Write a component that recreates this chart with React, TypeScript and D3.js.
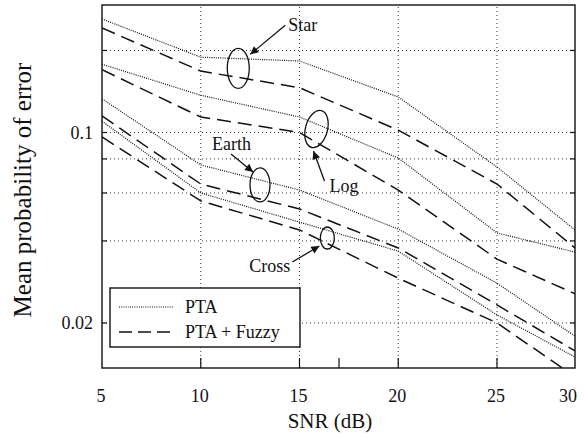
import React, { useEffect, useRef } from "react";
import * as d3 from "d3";

// SNR in dB
const snr = [5, 10, 15, 20, 25, 30];

// mean probability of error
const starPTA = [0.261, 0.189, 0.183, 0.135, 0.0747, 0.0439];
const starFuzzy = [0.242, 0.168, 0.146, 0.102, 0.0647, 0.0377];
const logPTA = [0.178, 0.137, 0.114, 0.0806, 0.0428, 0.0364];
const logFuzzy = [0.17, 0.114, 0.1, 0.0615, 0.0343, 0.0256];
const earthPTA = [0.133, 0.076, 0.0615, 0.0442, 0.028, 0.0179];
const earthFuzzy = [0.115, 0.0647, 0.0524, 0.0377, 0.0233, 0.0158];
const crossPTA = [0.11, 0.06, 0.0469, 0.0367, 0.0214, 0.015];
const crossFuzzy = [0.0963, 0.0561, 0.0439, 0.0292, 0.02, 0.0127];

const xTickLabels = ["5", "10", "15", "20", "25", "30"];
const xGrid = [10, 15, 20, 25];
const xTickMarks = [10, 15, 17, 20, 25];
const yGrid = [0.2, 0.1, 0.08, 0.06, 0.04, 0.02];
const yTickLabels = [0.1, 0.02];

const groups = [
  { name: "Star", pta: starPTA, fuzzy: starFuzzy },
  { name: "Log", pta: logPTA, fuzzy: logFuzzy },
  { name: "Earth", pta: earthPTA, fuzzy: earthFuzzy },
  { name: "Cross", pta: crossPTA, fuzzy: crossFuzzy },
];

// ellipse centre in data units, then label / arrow offsets in px
const notes = [
  { name: "Star", snr: 11.9, p: 0.172, rx: 11, ry: 20, tilt: 0, text: [50, -37], tail: [47, -43], head: [12, -14] },
  { name: "Log", snr: 15.86, p: 0.103, rx: 11, ry: 19, tilt: 15, text: [13, 63], tail: [8, 52], head: [-3, 22] },
  { name: "Earth", snr: 13.0, p: 0.0642, rx: 10, ry: 17, tilt: 0, text: [-48, -35], tail: [-29, -31], head: [-7, -13] },
  { name: "Cross", snr: 16.41, p: 0.041, rx: 7, ry: 11, tilt: 0, text: [-78, 34], tail: [-35, 24], head: [-8, 8] },
];

const legendItems = [
  { label: "PTA", dash: "1,1.2", width: 1.2 },
  { label: "PTA + Fuzzy", dash: "13,6", width: 1.5 },
];

const W = 586;
const H = 441;
const margin = { top: 5, right: 11, bottom: 73, left: 102 };
const font = "'Liberation Serif', 'Times New Roman', Times, serif";
const ink = "#111";

function Chart() {
  const ref = useRef<SVGSVGElement>(null);

  useEffect(() => {
    const svg = d3.select(ref.current);
    svg.selectAll("*").remove();

    const x0 = margin.left;
    const x1 = W - margin.right;
    const y0 = H - margin.bottom;
    const y1 = margin.top;

    // the original axis squeezes 25..30 into the last stretch
    const x = d3.scaleLinear().domain([5, 25, 30]).range([x0, 497, x1]);
    const y = d3.scaleLog().domain([0.01367, 0.2937]).range([y0, y1]);

    svg.append("rect").attr("width", W).attr("height", H).attr("fill", "#fff");

    const defs = svg.append("defs");
    defs.append("clipPath").attr("id", "plot-clip")
      .append("rect").attr("x", x0).attr("y", y1).attr("width", x1 - x0).attr("height", y0 - y1);
    defs.append("marker")
      .attr("id", "arrowhead")
      .attr("viewBox", "0 0 10 10")
      .attr("refX", 10).attr("refY", 5)
      .attr("markerWidth", 11).attr("markerHeight", 8)
      .attr("markerUnits", "userSpaceOnUse")
      .attr("orient", "auto")
      .append("path").attr("d", "M0,0L10,5L0,10z").attr("fill", ink);

    // grid
    const grid = svg.append("g").attr("stroke", "#333").attr("stroke-width", 1).attr("stroke-dasharray", "1,3");
    grid.selectAll(".gx").data(xGrid).join("line")
      .attr("x1", (d) => x(d)).attr("x2", (d) => x(d)).attr("y1", y0).attr("y2", y1);
    grid.selectAll(".gy").data(yGrid).join("line")
      .attr("x1", x0).attr("x2", x1).attr("y1", (d) => y(d)).attr("y2", (d) => y(d));

    // ticks (inward)
    const ticks = svg.append("g").attr("stroke", ink).attr("stroke-width", 1.2);
    ticks.selectAll(".tx").data(xTickMarks).join("line")
      .attr("x1", (d) => x(d)).attr("x2", (d) => x(d)).attr("y1", y0).attr("y2", y0 - 10);
    ticks.selectAll(".tyl").data(yGrid).join("line")
      .attr("x1", x0).attr("x2", x0 + 5).attr("y1", (d) => y(d)).attr("y2", (d) => y(d));
    ticks.selectAll(".tyr").data(yGrid).join("line")
      .attr("x1", x1).attr("x2", x1 - 5).attr("y1", (d) => y(d)).attr("y2", (d) => y(d));

    // series
    const line = d3.line<number>().x((_, i) => x(snr[i])).y((d) => y(d));
    const plot = svg.append("g").attr("clip-path", "url(#plot-clip)").attr("fill", "none").attr("stroke", ink);
    groups.forEach((g) => {
      plot.append("path").datum(g.pta).attr("d", line)
        .attr("stroke-width", legendItems[0].width).attr("stroke-dasharray", legendItems[0].dash);
      plot.append("path").datum(g.fuzzy).attr("d", line)
        .attr("stroke-width", legendItems[1].width).attr("stroke-dasharray", "14,7");
    });

    // annotations
    const ann = svg.append("g").attr("font-family", font).attr("font-size", 18).attr("fill", ink);
    notes.forEach((n) => {
      const cx = x(n.snr);
      const cy = y(n.p);
      ann.append("ellipse")
        .attr("cx", cx).attr("cy", cy).attr("rx", n.rx).attr("ry", n.ry)
        .attr("transform", `rotate(${n.tilt},${cx},${cy})`)
        .attr("fill", "none").attr("stroke", ink).attr("stroke-width", 1.3);
      ann.append("line")
        .attr("x1", cx + n.tail[0]).attr("y1", cy + n.tail[1])
        .attr("x2", cx + n.head[0]).attr("y2", cy + n.head[1])
        .attr("stroke", ink).attr("stroke-width", 1.3)
        .attr("marker-end", "url(#arrowhead)");
      ann.append("text").attr("x", cx + n.text[0]).attr("y", cy + n.text[1]).text(n.name);
    });

    // frame
    svg.append("rect")
      .attr("x", x0).attr("y", y1).attr("width", x1 - x0).attr("height", y0 - y1)
      .attr("fill", "none").attr("stroke", ink).attr("stroke-width", 1.4);

    // legend
    const lg = svg.append("g").attr("transform", "translate(110,288)");
    lg.append("rect").attr("width", 190).attr("height", 59)
      .attr("fill", "#fff").attr("stroke", ink).attr("stroke-width", 1.4);
    legendItems.forEach((item, i) => {
      const ly = 19 + i * 25;
      lg.append("line").attr("x1", 9).attr("x2", 63).attr("y1", ly).attr("y2", ly)
        .attr("stroke", ink).attr("stroke-width", item.width).attr("stroke-dasharray", item.dash);
      lg.append("text").attr("x", 75).attr("y", ly + 6)
        .attr("font-family", font).attr("font-size", 18).attr("fill", ink).text(item.label);
    });

    // tick labels
    const labels = svg.append("g").attr("font-family", font).attr("font-size", 18).attr("fill", ink);
    labels.selectAll(".xl").data(snr).join("text")
      .attr("x", (d, i) => (i === snr.length - 1 ? x(d) + 2 : x(d) - 1))
      .attr("y", y0 + 34)
      .attr("text-anchor", (d, i) => (i === snr.length - 1 ? "end" : "middle"))
      .text((d, i) => xTickLabels[i]);
    labels.selectAll(".yl").data(yTickLabels).join("text")
      .attr("x", x0 - 9).attr("y", (d) => y(d) + 6)
      .attr("text-anchor", "end")
      .text((d) => String(d));

    // axis titles
    svg.append("text")
      .attr("x", 330).attr("y", 428)
      .attr("text-anchor", "middle")
      .attr("font-family", font).attr("font-size", 21).attr("fill", ink)
      .text("SNR (dB)");
    svg.append("text")
      .attr("transform", "translate(31,190) rotate(-90)")
      .attr("text-anchor", "middle")
      .attr("font-family", font).attr("font-size", 25).attr("fill", ink)
      .text("Mean probability of error");
  }, []);

  return (
    <svg
      ref={ref}
      width={W}
      height={H}
      style={{ position: "absolute", left: 0, top: 0, display: "block" }}
    />
  );
}

export default function App() {
  return <Chart />;
}
